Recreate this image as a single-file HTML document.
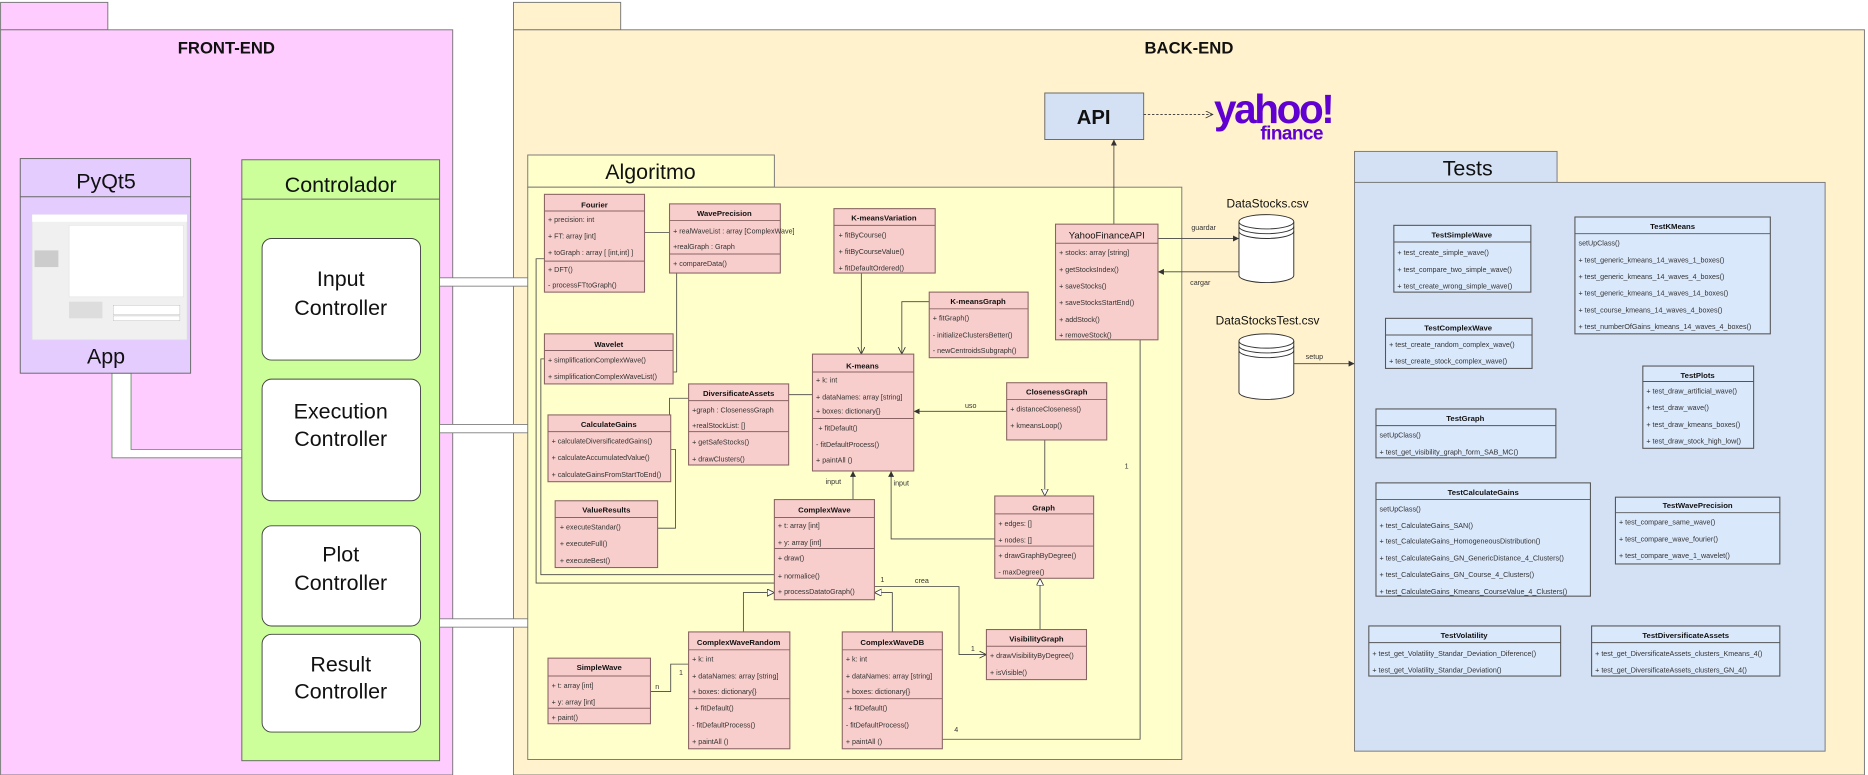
<!DOCTYPE html>
<html><head><meta charset="utf-8"><style>
html,body{margin:0;padding:0;background:#fff;}
svg{display:block;}
text{font-family:"Liberation Sans",sans-serif;fill:#111;}
.m{font-size:6px;fill:#333;}
.t{font-size:6.5px;font-weight:bold;}
.c{fill:#f8cecc;stroke:#8a6464;stroke-width:0.9;}
.tc{fill:#dae8fc;stroke:#555;stroke-width:0.9;}
.ln{stroke:#444;stroke-width:0.7;fill:none;}
.dv{stroke:#8a6464;stroke-width:0.8;}
.dvt{stroke:#555;stroke-width:0.8;}
</style></head><body>
<svg width="1868" height="775" viewBox="0 0 1568 650" preserveAspectRatio="none" xmlns="http://www.w3.org/2000/svg">
<defs>
<marker id="fa" markerWidth="6" markerHeight="6" refX="5" refY="3" orient="auto" markerUnits="userSpaceOnUse"><path d="M0,0.5 L5,3 L0,5.5 z" fill="#333"/></marker>
<marker id="oa" markerWidth="8" markerHeight="8" refX="6" refY="3" orient="auto" markerUnits="userSpaceOnUse"><path d="M0,0 L6,3 L0,6" fill="none" stroke="#333" stroke-width="0.7"/></marker>
<marker id="tri" markerWidth="8" markerHeight="8" refX="6" refY="3" orient="auto" markerUnits="userSpaceOnUse"><path d="M0,0 L6,3 L0,6 z" fill="#fff" stroke="#333" stroke-width="0.7"/></marker>
</defs>

<!-- FRONT-END -->
<rect x="0.5" y="2" width="90" height="23" fill="#ffccff" stroke="#777" stroke-width="0.8"/>
<rect x="0.5" y="25" width="379.5" height="625" fill="#ffccff" stroke="#777" stroke-width="0.8"/>
<text x="190" y="45" font-size="14" font-weight="bold" text-anchor="middle">FRONT-END</text>

<!-- BACK-END -->
<rect x="431" y="2" width="90" height="23" fill="#fff2cc" stroke="#777" stroke-width="0.8"/>
<rect x="431" y="25" width="1134" height="625" fill="#fff2cc" stroke="#777" stroke-width="0.8"/>
<text x="998" y="45" font-size="14" font-weight="bold" text-anchor="middle">BACK-END</text>

<!-- App connector -->
<path d="M94,313 V384 H203 V377 H110 V313 Z" fill="#fff" stroke="#5a8a5a" stroke-width="0.7"/>

<!-- PyQt5 -->
<rect x="17" y="133" width="143" height="180" fill="#e5ccff" stroke="#666" stroke-width="0.8"/>
<line x1="17" y1="165" x2="160" y2="165" stroke="#666" stroke-width="0.8"/>
<text x="89" y="158" font-size="18" text-anchor="middle">PyQt5</text>
<rect x="27" y="180" width="130" height="105" fill="#f0f0f0" stroke="#ddd" stroke-width="0.5"/>
<rect x="27" y="180" width="130" height="6" fill="#fff"/>
<rect x="58" y="189" width="96" height="60" fill="#fff" stroke="#ddd" stroke-width="0.4"/>
<rect x="29" y="210" width="20" height="14" fill="#ccc"/>
<rect x="58" y="253" width="28" height="14" fill="#ddd"/>
<rect x="95" y="256" width="56" height="8" fill="#fff" stroke="#aaa" stroke-width="0.3"/>
<rect x="95" y="265" width="56" height="4" fill="#fff" stroke="#aaa" stroke-width="0.3"/>
<text x="89" y="305" font-size="18" text-anchor="middle">App</text>

<!-- Controlador -->
<rect x="203" y="134" width="166" height="504" fill="#ccff99" stroke="#666" stroke-width="0.8"/>
<line x1="203" y1="167" x2="369" y2="167" stroke="#666" stroke-width="0.8"/>
<text x="286" y="161" font-size="18" text-anchor="middle">Controlador</text>
<g font-size="18" text-anchor="middle">
<rect x="220" y="200" width="133" height="102" rx="8" fill="#fff" stroke="#444" stroke-width="0.8"/>
<text x="286" y="240">Input</text><text x="286" y="264">Controller</text>
<rect x="220" y="318" width="133" height="102" rx="8" fill="#fff" stroke="#444" stroke-width="0.8"/>
<text x="286" y="351">Execution</text><text x="286" y="374">Controller</text>
<rect x="220" y="441" width="133" height="84" rx="8" fill="#fff" stroke="#444" stroke-width="0.8"/>
<text x="286" y="471">Plot</text><text x="286" y="495">Controller</text>
<rect x="220" y="532" width="133" height="82" rx="8" fill="#fff" stroke="#444" stroke-width="0.8"/>
<text x="286" y="563">Result</text><text x="286" y="586">Controller</text>
</g>
<g fill="#fff" stroke="#777" stroke-width="0.7">
<rect x="369" y="233" width="80" height="7"/>
<rect x="369" y="356" width="78" height="7"/>
<rect x="369" y="519" width="80" height="7"/>
</g>

<!-- Algoritmo -->
<rect x="443" y="130" width="207" height="27" fill="#ffffcc" stroke="#777" stroke-width="0.8"/>
<rect x="443" y="157" width="549" height="480" fill="#ffffcc" stroke="#777" stroke-width="0.8"/>
<text x="546" y="150" font-size="18" text-anchor="middle">Algoritmo</text>

<path class="ln" d="M457,217 H450 V489 H650"/>
<path class="ln" d="M457,301 H454 V482 H650"/>
<path class="ln" d="M541,195 H562"/>
<path class="ln" d="M568,229 V312 H565"/>
<path class="ln" d="M562,348 V334 H578"/>
<path class="ln" d="M552,443 H567 V377 H563"/>
<path class="ln" d="M662,331 H682"/>
<path class="ln" d="M723,229 V297" marker-end="url(#oa)"/>
<path class="ln" d="M780,253 H757 V297" marker-end="url(#oa)"/>
<path class="ln" d="M845,345 H767" marker-end="url(#fa)"/>
<text x="810" y="342" class="m">uso</text>
<path class="ln" d="M877,369 V416" marker-end="url(#tri)"/>
<path class="ln" d="M716,419 V395" marker-end="url(#fa)"/>
<text x="693" y="406" class="m">input</text>
<path class="ln" d="M835,452 H748 V395" marker-end="url(#fa)"/>
<text x="750" y="407" class="m">input</text>
<path class="ln" d="M873,528 V485" marker-end="url(#tri)"/>
<path class="ln" d="M734,492 H805 V549 H828" marker-end="url(#oa)"/>
<text x="739" y="488" class="m">1</text><text x="768" y="489" class="m">crea</text><text x="815" y="546" class="m">1</text>
<path class="ln" d="M624,530 V497 H650" marker-end="url(#tri)"/>
<path class="ln" d="M749,530 V497 H734" marker-end="url(#tri)"/>
<path class="ln" d="M546,580 H563 V557 H578"/>
<text x="550" y="578" class="m">n</text><text x="570" y="566" class="m">1</text>
<path class="ln" d="M791,620 H957 V285"/>
<text x="944" y="393" class="m">1</text><text x="801" y="614" class="m">4</text>
<path class="ln" d="M935,188 V117" marker-end="url(#fa)"/>

<!-- API & yahoo -->
<rect x="877" y="78" width="83" height="39" fill="#d4e1f5" stroke="#666" stroke-width="0.8"/>
<text x="918" y="104" font-size="17" font-weight="bold" text-anchor="middle">API</text>
<path d="M960,96 H1018" stroke="#333" stroke-width="0.7" stroke-dasharray="2,1.5" fill="none" marker-end="url(#oa)"/>
<text x="1019" y="103" font-size="34" font-weight="bold" style="fill:#6001d2;letter-spacing:-2px">yahoo!</text>
<text x="1058" y="117" font-size="16" font-weight="bold" style="fill:#6001d2;letter-spacing:-0.5px">finance</text>

<!-- Data stores -->
<text x="1064" y="174" font-size="10" text-anchor="middle">DataStocks.csv</text>
<text x="1064" y="272" font-size="10" text-anchor="middle">DataStocksTest.csv</text>
<g fill="#fff" stroke="#333" stroke-width="0.8">
<path d="M1040,186 V231 A23,6 0 0 0 1086,231 V186"/>
<ellipse cx="1063" cy="186" rx="23" ry="6"/>
<path d="M1040,190 A23,6 0 0 0 1086,190 M1040,194 A23,6 0 0 0 1086,194" fill="none"/>
<path d="M1040,286 V329 A23,6 0 0 0 1086,329 V286"/>
<ellipse cx="1063" cy="286" rx="23" ry="6"/>
<path d="M1040,290 A23,6 0 0 0 1086,290 M1040,294 A23,6 0 0 0 1086,294" fill="none"/>
</g>
<path class="ln" d="M972,200 H1040" marker-end="url(#fa)"/>
<text x="1000" y="193" class="m">guardar</text>
<path class="ln" d="M1040,228 H972" marker-end="url(#fa)"/>
<text x="999" y="239" class="m">cargar</text>
<path class="ln" d="M1086,305 H1137" marker-end="url(#fa)"/>
<text x="1096" y="301" class="m">setup</text>

<!-- Tests -->
<rect x="1137" y="127" width="170" height="26" fill="#d4e1f5" stroke="#777" stroke-width="0.8"/>
<rect x="1137" y="153" width="395" height="477" fill="#d4e1f5" stroke="#777" stroke-width="0.8"/>
<text x="1232" y="147" font-size="18" text-anchor="middle">Tests</text>

<g>
<rect class="c" x="457" y="163" width="84" height="82"/>
<line class="dv" x1="457" y1="177" x2="541" y2="177"/><line class="dv" x1="457" y1="219" x2="541" y2="219"/>
<text class="t" x="499" y="174" text-anchor="middle" font-size="7.5">Fourier</text>
<text class="m" x="460" y="186">+ precision: int</text>
<text class="m" x="460" y="200">+ FT: array [int]</text>
<text class="m" x="460" y="214">+ toGraph : array [ [int,int] ]</text>
<text class="m" x="460" y="228">+ DFT()</text>
<text class="m" x="460" y="241">- processFTtoGraph()</text>
<rect class="c" x="562" y="171" width="93" height="58"/>
<line class="dv" x1="562" y1="185" x2="655" y2="185"/><line class="dv" x1="562" y1="213" x2="655" y2="213"/>
<text class="t" x="608" y="181" text-anchor="middle">WavePrecision</text>
<text class="m" x="565" y="196">+ realWaveList : array [ComplexWave]</text>
<text class="m" x="565" y="209">+realGraph : Graph</text>
<text class="m" x="565" y="223">+ compareData()</text>
<rect class="c" x="700" y="175" width="85" height="54"/>
<line class="dv" x1="700" y1="189" x2="785" y2="189"/>
<text class="t" x="742" y="185" text-anchor="middle">K-meansVariation</text>
<text class="m" x="704" y="199">+ fitByCourse()</text>
<text class="m" x="704" y="213">+ fitByCourseValue()</text>
<text class="m" x="704" y="227">+ fitDefaultOrdered()</text>
<rect class="c" x="780" y="245" width="83" height="55"/>
<line class="dv" x1="780" y1="259" x2="863" y2="259"/>
<text class="t" x="821" y="255" text-anchor="middle">K-meansGraph</text>
<text class="m" x="783" y="269">+ fitGraph()</text>
<text class="m" x="783" y="283">- initializeClustersBetter()</text>
<text class="m" x="783" y="296">- newCentroidsSubgraph()</text>
<rect class="c" x="457" y="280" width="108" height="42"/>
<line class="dv" x1="457" y1="294" x2="565" y2="294"/>
<text class="t" x="511" y="291" text-anchor="middle" font-size="7.5">Wavelet</text>
<text class="m" x="460" y="304">+ simplificationComplexWave()</text>
<text class="m" x="460" y="318">+ simplificationComplexWaveList()</text>
<rect class="c" x="682" y="297" width="85" height="98"/>
<line class="dv" x1="682" y1="312" x2="767" y2="312"/><line class="dv" x1="682" y1="351" x2="767" y2="351"/>
<text class="t" x="724" y="309" text-anchor="middle" font-size="8">K-means</text>
<text class="m" x="685" y="321">+ k: int</text>
<text class="m" x="685" y="335">+ dataNames: array [string]</text>
<text class="m" x="685" y="347">+ boxes: dictionary{}</text>
<text class="m" x="687" y="361">+ fitDefault()</text>
<text class="m" x="685" y="375">- fitDefaultProcess()</text>
<text class="m" x="685" y="388">+ paintAll ()</text>
<rect class="c" x="578" y="322" width="84" height="68"/>
<line class="dv" x1="578" y1="336" x2="662" y2="336"/><line class="dv" x1="578" y1="362" x2="662" y2="362"/>
<text class="t" x="620" y="332" text-anchor="middle">DiversificateAssets</text>
<text class="m" x="581" y="346">+graph : ClosenessGraph</text>
<text class="m" x="581" y="359">+realStockList: []</text>
<text class="m" x="581" y="373">+ getSafeStocks()</text>
<text class="m" x="581" y="387">+ drawClusters()</text>
<rect class="c" x="460" y="348" width="103" height="56"/>
<line class="dv" x1="460" y1="362" x2="563" y2="362"/>
<text class="t" x="511" y="358" text-anchor="middle">CalculateGains</text>
<text class="m" x="463" y="372">+ calculateDiversificatedGains()</text>
<text class="m" x="463" y="386">+ calculateAccumulatedValue()</text>
<text class="m" x="463" y="400">+ calculateGainsFromStartToEnd()</text>
<rect class="c" x="845" y="321" width="84" height="48"/>
<line class="dv" x1="845" y1="335" x2="929" y2="335"/>
<text class="t" x="887" y="331" text-anchor="middle">ClosenessGraph</text>
<text class="m" x="848" y="345">+ distanceCloseness()</text>
<text class="m" x="848" y="359">+ kmeansLoop()</text>
<rect class="c" x="466" y="420" width="86" height="56"/>
<line class="dv" x1="466" y1="434" x2="552" y2="434"/>
<text class="t" x="509" y="430" text-anchor="middle">ValueResults</text>
<text class="m" x="470" y="444">+ executeStandar()</text>
<text class="m" x="470" y="458">+ executeFull()</text>
<text class="m" x="470" y="472">+ executeBest()</text>
<rect class="c" x="650" y="419" width="84" height="84"/>
<line class="dv" x1="650" y1="434" x2="734" y2="434"/><line class="dv" x1="650" y1="460" x2="734" y2="460"/>
<text class="t" x="692" y="430" text-anchor="middle" font-size="8">ComplexWave</text>
<text class="m" x="653" y="443">+ t: array [int]</text>
<text class="m" x="653" y="457">+ y: array [int]</text>
<text class="m" x="653" y="470">+ draw()</text>
<text class="m" x="653" y="485">+ normalice()</text>
<text class="m" x="653" y="498">+ processDatatoGraph()</text>
<rect class="c" x="835" y="416" width="83" height="69"/>
<line class="dv" x1="835" y1="431" x2="918" y2="431"/><line class="dv" x1="835" y1="458" x2="918" y2="458"/>
<text class="t" x="876" y="428" text-anchor="middle" font-size="8">Graph</text>
<text class="m" x="838" y="441">+ edges: []</text>
<text class="m" x="838" y="455">+ nodes: []</text>
<text class="m" x="838" y="468">+ drawGraphByDegree()</text>
<text class="m" x="838" y="482">- maxDegree()</text>
<rect class="c" x="578" y="530" width="85" height="98"/>
<line class="dv" x1="578" y1="545" x2="663" y2="545"/><line class="dv" x1="578" y1="586" x2="663" y2="586"/>
<text class="t" x="620" y="541" text-anchor="middle">ComplexWaveRandom</text>
<text class="m" x="581" y="555">+ k: int</text>
<text class="m" x="581" y="569">+ dataNames: array [string]</text>
<text class="m" x="581" y="582">+ boxes: dictionary{}</text>
<text class="m" x="583" y="596">+ fitDefault()</text>
<text class="m" x="581" y="610">- fitDefaultProcess()</text>
<text class="m" x="581" y="624">+ paintAll ()</text>
<rect class="c" x="707" y="530" width="84" height="98"/>
<line class="dv" x1="707" y1="545" x2="791" y2="545"/><line class="dv" x1="707" y1="586" x2="791" y2="586"/>
<text class="t" x="749" y="541" text-anchor="middle">ComplexWaveDB</text>
<text class="m" x="710" y="555">+ k: int</text>
<text class="m" x="710" y="569">+ dataNames: array [string]</text>
<text class="m" x="710" y="582">+ boxes: dictionary{}</text>
<text class="m" x="712" y="596">+ fitDefault()</text>
<text class="m" x="710" y="610">- fitDefaultProcess()</text>
<text class="m" x="710" y="624">+ paintAll ()</text>
<rect class="c" x="460" y="552" width="86" height="55"/>
<line class="dv" x1="460" y1="567" x2="546" y2="567"/><line class="dv" x1="460" y1="594" x2="546" y2="594"/>
<text class="t" x="503" y="562" text-anchor="middle">SimpleWave</text>
<text class="m" x="463" y="577">+ t: array [int]</text>
<text class="m" x="463" y="591">+ y: array [int]</text>
<text class="m" x="463" y="604">+ paint()</text>
<rect class="c" x="828" y="528" width="84" height="42"/>
<line class="dv" x1="828" y1="542" x2="912" y2="542"/>
<text class="t" x="870" y="538" text-anchor="middle">VisibilityGraph</text>
<text class="m" x="831" y="552">+ drawVisibilityByDegree()</text>
<text class="m" x="831" y="566">+ isVisible()</text>
<rect class="c" x="886" y="188" width="86" height="97"/>
<line class="dv" x1="886" y1="204" x2="972" y2="204"/>
<text x="929" y="200" text-anchor="middle" font-size="8">YahooFinanceAPI</text>
<text class="m" x="889" y="214">+ stocks: array [string]</text>
<text class="m" x="889" y="228">+ getStocksIndex()</text>
<text class="m" x="889" y="242">+ saveStocks()</text>
<text class="m" x="889" y="256">+ saveStocksStartEnd()</text>
<text class="m" x="889" y="270">+ addStock()</text>
<text class="m" x="889" y="283">+ removeStock()</text>
</g>

<g>
<rect class="tc" x="1170" y="189" width="115" height="56"/>
<line class="dvt" x1="1170" y1="203" x2="1285" y2="203"/>
<text class="t" x="1227" y="199" text-anchor="middle">TestSimpleWave</text>
<text class="m" x="1173" y="214">+ test_create_simple_wave()</text>
<text class="m" x="1173" y="228">+ test_compare_two_simple_wave()</text>
<text class="m" x="1173" y="242">+ test_create_wrong_simple_wave()</text>

<rect class="tc" x="1322" y="182" width="164" height="98"/>
<line class="dvt" x1="1322" y1="196" x2="1486" y2="196"/>
<text class="t" x="1404" y="192" text-anchor="middle">TestKMeans</text>
<text class="m" x="1325" y="206">setUpClass()</text>
<text class="m" x="1325" y="220">+ test_generic_kmeans_14_waves_1_boxes()</text>
<text class="m" x="1325" y="234">+ test_generic_kmeans_14_waves_4_boxes()</text>
<text class="m" x="1325" y="248">+ test_generic_kmeans_14_waves_14_boxes()</text>
<text class="m" x="1325" y="262">+ test_course_kmeans_14_waves_4_boxes()</text>
<text class="m" x="1325" y="276">+ test_numberOfGains_kmeans_14_waves_4_boxes()</text>

<rect class="tc" x="1163" y="267" width="123" height="42"/>
<line class="dvt" x1="1163" y1="281" x2="1286" y2="281"/>
<text class="t" x="1224" y="277" text-anchor="middle">TestComplexWave</text>
<text class="m" x="1166" y="291">+ test_create_random_complex_wave()</text>
<text class="m" x="1166" y="305">+ test_create_stock_complex_wave()</text>

<rect class="tc" x="1379" y="307" width="93" height="69"/>
<line class="dvt" x1="1379" y1="320" x2="1472" y2="320"/>
<text class="t" x="1425" y="317" text-anchor="middle">TestPlots</text>
<text class="m" x="1382" y="330">+ test_draw_artificial_wave()</text>
<text class="m" x="1382" y="344">+ test_draw_wave()</text>
<text class="m" x="1382" y="358">+ test_draw_kmeans_boxes()</text>
<text class="m" x="1382" y="372">+ test_draw_stock_high_low()</text>

<rect class="tc" x="1155" y="343" width="151" height="41"/>
<line class="dvt" x1="1155" y1="357" x2="1306" y2="357"/>
<text class="t" x="1230" y="353" text-anchor="middle">TestGraph</text>
<text class="m" x="1158" y="367">setUpClass()</text>
<text class="m" x="1158" y="381">+ test_get_visibility_graph_form_SAB_MC()</text>

<rect class="tc" x="1155" y="405" width="180" height="95"/>
<line class="dvt" x1="1155" y1="419" x2="1335" y2="419"/>
<text class="t" x="1245" y="415" text-anchor="middle">TestCalculateGains</text>
<text class="m" x="1158" y="429">setUpClass()</text>
<text class="m" x="1158" y="443">+ test_CalculateGains_SAN()</text>
<text class="m" x="1158" y="456">+ test_CalculateGains_HomogeneousDistribution()</text>
<text class="m" x="1158" y="470">+ test_CalculateGains_GN_GenericDistance_4_Clusters()</text>
<text class="m" x="1158" y="484">+ test_CalculateGains_GN_Course_4_Clusters()</text>
<text class="m" x="1158" y="498">+ test_CalculateGains_Kmeans_CourseValue_4_Clusters()</text>

<rect class="tc" x="1356" y="417" width="138" height="56"/>
<line class="dvt" x1="1356" y1="430" x2="1494" y2="430"/>
<text class="t" x="1425" y="426" text-anchor="middle">TestWavePrecision</text>
<text class="m" x="1359" y="440">+ test_compare_same_wave()</text>
<text class="m" x="1359" y="454">+ test_compare_wave_fourier()</text>
<text class="m" x="1359" y="468">+ test_compare_wave_1_wavelet()</text>

<rect class="tc" x="1149" y="525" width="161" height="42"/>
<line class="dvt" x1="1149" y1="539" x2="1310" y2="539"/>
<text class="t" x="1229" y="535" text-anchor="middle">TestVolatility</text>
<text class="m" x="1152" y="550">+ test_get_Volatility_Standar_Deviation_Diference()</text>
<text class="m" x="1152" y="564">+ test_get_Volatility_Standar_Deviation()</text>

<rect class="tc" x="1336" y="525" width="158" height="42"/>
<line class="dvt" x1="1336" y1="539" x2="1494" y2="539"/>
<text class="t" x="1415" y="535" text-anchor="middle">TestDiversificateAssets</text>
<text class="m" x="1339" y="550">+ test_get_DiversificateAssets_clusters_Kmeans_4()</text>
<text class="m" x="1339" y="564">+ test_get_DiversificateAssets_clusters_GN_4()</text>
</g>
</svg>
</body></html>
